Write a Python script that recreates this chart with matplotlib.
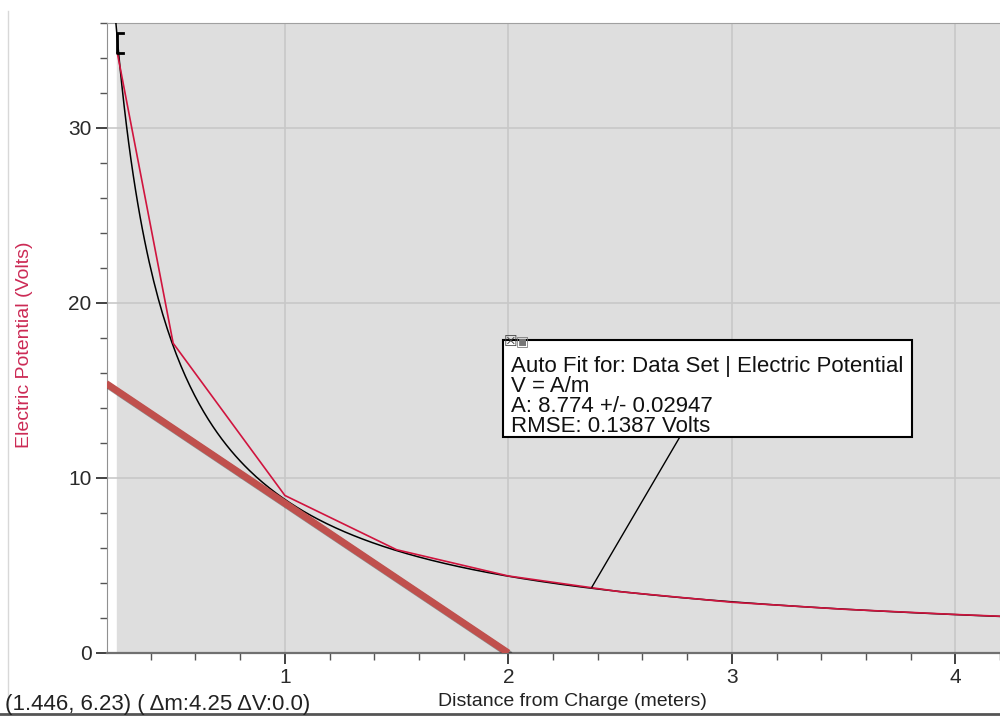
import numpy as np
import matplotlib.pyplot as plt
import matplotlib.patheffects as pe
from matplotlib.patches import Rectangle
from matplotlib.ticker import MultipleLocator

plt.rcParams['font.family'] = ['Liberation Sans', 'DejaVu Sans']

# measured data (red)
dist = [0.25, 0.5, 1.0, 1.5, 2.0, 2.5, 3.0, 3.5, 4.0, 4.5]
volts = [34.3, 17.7, 9.0, 5.9, 4.4, 3.5, 2.9, 2.5, 2.2, 1.95]

# auto fit V = A/m
A_fit = 8.774
fit_x = np.linspace(0.24, 4.3, 400)
fit_y = A_fit / fit_x

# hand-drawn tangent line
tan_x = [0.2, 2.0]
tan_y = [15.4, 0.0]

# cursor bracket and leader point
bracket_x = 0.25
bracket_y = [34.3, 35.4]
leader_pt = (2.374, 3.77)
leader_end = (2.77, 12.4)

xmin, xmax = 0.204, 4.2
ymin, ymax = 0, 36

fig = plt.figure(figsize=(10, 7.16), dpi=100)
ax = fig.add_axes([0.107, 0.088, 0.893, 0.880])
ax.set_xlim(xmin, xmax)
ax.set_ylim(ymin, ymax)
ax.set_facecolor('white')
ax.axvspan(0.25, xmax, color='#dedede', zorder=0)

ax.xaxis.set_major_locator(MultipleLocator(1))
ax.xaxis.set_minor_locator(MultipleLocator(0.2))
ax.yaxis.set_major_locator(MultipleLocator(10))
ax.yaxis.set_minor_locator(MultipleLocator(2))
ax.grid(True, which='major', color='#c8c8c8', lw=1.2, zorder=1)
ax.set_axisbelow(True)

ax.tick_params(which='major', direction='out', length=8, width=1.3,
               color='#333333', labelsize=15, labelcolor='#2a2a2a', pad=3)
ax.tick_params(which='minor', direction='out', length=5, width=1,
               color='#555555')

ax.spines['right'].set_visible(False)
ax.spines['top'].set_color('#a0a0a0')
ax.spines['left'].set_color('#909090')
ax.spines['bottom'].set_color('#707070')
ax.spines['bottom'].set_linewidth(1.6)

ax.plot(fit_x, fit_y, color='black', lw=1.1, zorder=3)
ax.plot(dist, volts, color='#d0143e', lw=1.2, zorder=4)

ax.plot(tan_x, tan_y, color='#c0504d', lw=5, solid_capstyle='butt', zorder=5,
        path_effects=[pe.SimpleLineShadow(offset=(1.5, -1.5), alpha=0.35),
                      pe.Normal()])

# bracket
ax.plot([bracket_x + 0.025, bracket_x, bracket_x, bracket_x + 0.025],
        [bracket_y[1], bracket_y[1], bracket_y[0], bracket_y[0]],
        color='black', lw=2, zorder=6)

# leader line to annotation box
ax.plot([leader_pt[0], leader_end[0]], [leader_pt[1], leader_end[1]],
        color='black', lw=1, zorder=6)

ax.set_xlabel('Distance from Charge (meters)', fontsize=14, color='#222222')
ax.set_ylabel('Electric Potential (Volts)', fontsize=14, color='#cc2a55')
ax.yaxis.set_label_coords(-0.083, 0.49)
ax.xaxis.set_label_coords(0.521, -0.064)

# annotation box
fig.add_artist(Rectangle((0.503, 0.3897), 0.409, 0.1355, transform=fig.transFigure,
                         fc='white', ec='black', lw=1.5, zorder=9))
box_text = ('Auto Fit for: Data Set | Electric Potential\n'
            'V = A/m\n'
            'A: 8.774 +/- 0.02947\n'
            'RMSE: 0.1387 Volts')
fig.text(0.511, 0.503, box_text, fontsize=16, color='#111111',
         va='top', ha='left', linespacing=0.95, zorder=10)
# small icons
fig.text(0.504, 0.523, '\u2612', fontsize=11, color='#444444', va='center',
         ha='left', family=['DejaVu Sans'], zorder=11)
fig.text(0.516, 0.523, '\u25a3', fontsize=10, color='#777777', va='center',
         ha='left', family=['DejaVu Sans'], zorder=11)

fig.text(0.005, 0.016, '(1.446, 6.23) ( \u0394m:4.25 \u0394V:0.0)', fontsize=16,
         color='#222222', ha='left', va='center')

# window frame lines
fig.add_artist(plt.Line2D([0.008, 0.008], [0.0, 0.985], color='#d8d8d8', lw=1))
fig.add_artist(plt.Line2D([0.0, 1.0], [0.003, 0.003], color='#555555', lw=2))

fig.savefig('out.png', dpi=100)
